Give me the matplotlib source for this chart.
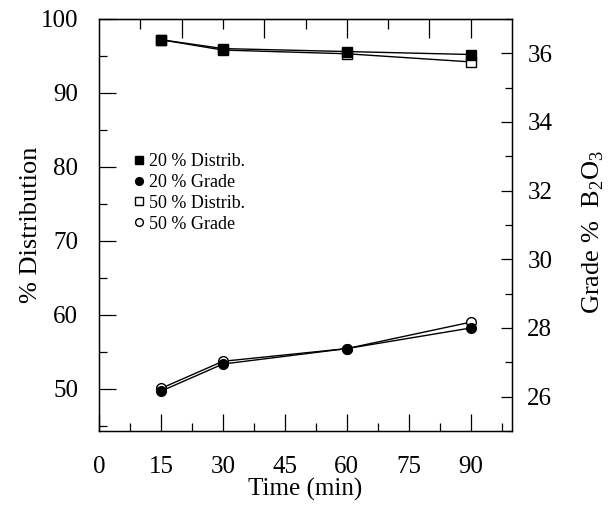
import matplotlib
matplotlib.use("Agg")
import matplotlib.pyplot as plt
from matplotlib.ticker import MultipleLocator, FixedLocator

plt.rcParams['font.family'] = ['Liberation Serif', 'DejaVu Serif']
plt.rcParams['mathtext.fontset'] = 'custom'
plt.rcParams['mathtext.rm'] = 'Liberation Serif'

time = [15, 30, 60, 90]
distrib_20 = [97.2, 96.0, 95.6, 95.2]
distrib_50 = [97.2, 95.8, 95.3, 94.2]
grade_20 = [26.16, 26.95, 27.4, 28.0]
grade_50 = [26.24, 27.03, 27.4, 28.17]
x_ticks = [0, 15, 30, 45, 60, 75, 90]
left_ticks = [50, 60, 70, 80, 90, 100]
right_ticks = [26, 28, 30, 32, 34, 36]

fig = plt.figure(figsize=(6.16, 5.08), dpi=100)
ax = fig.add_axes([0.1607, 0.1516, 0.6705, 0.811])
ax2 = ax.twinx()

h3, = ax.plot(time, distrib_50, '-', color='black', lw=1.0, marker='s', ms=6.5,
              mfc='white', mec='black', label='50 % Distrib.')
h1, = ax.plot(time, distrib_20, '-', color='black', lw=1.0, marker='s', ms=6.5,
              mfc='black', mec='black', label='20 % Distrib.')
h4, = ax2.plot(time, grade_50, '-', color='black', lw=1.0, marker='o', ms=7,
               mfc='white', mec='black', label='50 % Grade')
h2, = ax2.plot(time, grade_20, '-', color='black', lw=1.0, marker='o', ms=7,
               mfc='black', mec='black', label='20 % Grade')

ax.set_xlim(0, 100)
ax.set_ylim(44.3, 100)
ax2.set_ylim(25, 37)

ax.xaxis.set_major_locator(FixedLocator(x_ticks))
ax.xaxis.set_minor_locator(MultipleLocator(7.5))
ax.yaxis.set_major_locator(FixedLocator(left_ticks))
ax.yaxis.set_minor_locator(MultipleLocator(5))
ax2.yaxis.set_major_locator(FixedLocator(right_ticks))
ax2.yaxis.set_minor_locator(MultipleLocator(1))

ax.tick_params(axis='x', which='both', direction='in', top=False, bottom=True)
ax.tick_params(axis='x', which='major', length=12, width=0.9, labelsize=18, pad=18)
ax.tick_params(axis='x', which='minor', length=6, width=0.9)
ax.tick_params(axis='y', which='major', direction='in', length=12, width=0.9,
               labelsize=18, pad=15)
ax.tick_params(axis='y', which='minor', direction='in', length=6, width=0.9)
ax2.tick_params(axis='y', which='major', direction='in', length=8, width=0.9,
                labelsize=18, pad=11)
ax2.tick_params(axis='y', which='minor', direction='in', length=5, width=0.9)

# top ticks (inward, every 10 units)
secx = ax.secondary_xaxis('top')
secx.xaxis.set_major_locator(FixedLocator([20, 40, 60, 80, 90]))
secx.xaxis.set_minor_locator(FixedLocator([10, 30, 50, 70]))
secx.tick_params(which='major', direction='in', length=14, width=0.9, labeltop=False)
secx.tick_params(which='minor', direction='in', length=7, width=0.9)
secx.set_xticklabels([])

for sp in ax.spines.values():
    sp.set_linewidth(1.0)

ax.set_xlabel('Time (min)', fontsize=18, labelpad=0)
ax.set_ylabel('% Distribution', fontsize=19)
ax.yaxis.set_label_coords(-0.138, 0.5)
ax2.set_ylabel(r'Grade %  B$_{\mathrm{2}}$O$_{\mathrm{3}}$', fontsize=19)
ax2.yaxis.set_label_coords(1.166, 0.483)

leg = ax.legend(handles=[h1, h2, h3, h4], loc='upper left',
                bbox_to_anchor=(0.075, 0.697), frameon=False, fontsize=13,
                handlelength=0, handletextpad=0.55, labelspacing=0.22,
                borderpad=0, markerscale=0.8)

fig.savefig('out.png', dpi=100)
